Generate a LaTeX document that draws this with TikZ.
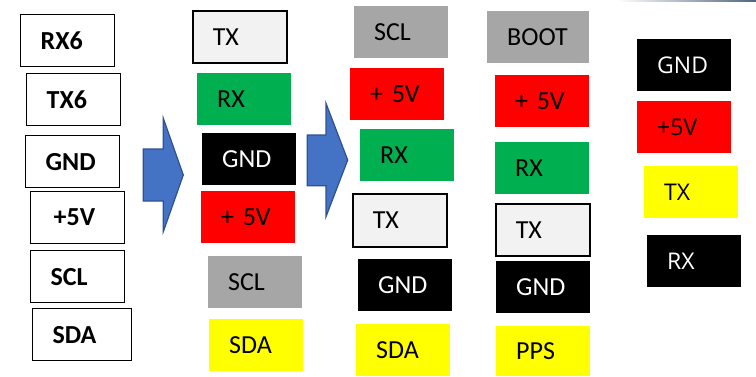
\documentclass[tikz,border=0pt]{standalone}
\usepackage{fontspec}
\setmainfont{Carlito}
\newfontfamily\osans{Open Sans}
\definecolor{pgreen}{HTML}{00B050}
\definecolor{pred}{HTML}{FF0000}
\definecolor{pgray}{HTML}{A6A6A6}
\definecolor{pyellow}{HTML}{FFFF00}
\definecolor{plight}{HTML}{F2F2F2}
\definecolor{pblue}{HTML}{4472C4}
\definecolor{pblueedge}{HTML}{2F528F}
\definecolor{topline}{RGB}{80,100,130}
\tikzset{
  pbox/.style={anchor=north west, minimum height=52pt, inner xsep=20pt, inner ysep=0pt,
    text width=54pt, align=left, font=\fontsize{26}{28}\selectfont},
  wbox/.style={pbox, draw=black, line width=1.3pt, fill=white, font=\fontsize{26}{28}\selectfont\bfseries},
  lbox/.style={pbox, draw=black, line width=1.6pt, fill=plight},
  gbox/.style={pbox, fill=pgreen},
  rbox/.style={pbox, fill=pred},
  kbox/.style={pbox, fill=black, text=white},
  sbox/.style={pbox, fill=pgray},
  ybox/.style={pbox, fill=pyellow},
  obox/.style={font=\osans\fontsize{23}{26}\selectfont},
  bigarrow/.style={fill=pblue, draw=pblueedge, line width=1.2pt, line join=miter}
}
\begin{document}
\begin{tikzpicture}[x=1pt, y=-1pt]
\useasboundingbox (0,0) rectangle (756,376);
\shade[left color=white, right color=topline] (617,0) rectangle (756,1.3);
% column 1
\node[wbox] (c1a) at (20,14) {RX6};
\node[wbox] (c1b) at (26,73) {TX6};
\node[wbox] (c1c) at (25,135) {GND};
\node[wbox, inner xsep=23pt, text width=48pt] (c1d) at (30,191) {+5V};
\node[wbox] (c1e) at (30,250) {SCL};
\node[wbox, text width=59pt] (c1f) at (32,308) {SDA};
% arrow 1
\draw[bigarrow] (143.3,149) -- (163.3,149) -- (163.3,118.3) -- (183.3,175) -- (163.3,231.7) -- (163.3,201) -- (143.3,201) -- cycle;
% column 2
\node[lbox] (c2a) at (192,10) {TX};
\node[gbox] (c2b) at (197,73) {RX};
\node[kbox] (c2c) at (202,133) {GND};
\node[rbox] (c2d) at (201,191) {+ 5V};
\node[sbox] (c2e) at (208,256) {SCL};
\node[ybox] (c2f) at (209,319) {SDA};
% arrow 2
\draw[bigarrow] (307.3,135) -- (326,135) -- (326,103.3) -- (347.7,160) -- (326,216.7) -- (326,185.7) -- (307.3,185.7) -- cycle;
% column 3
\node[sbox] (c3a) at (354,6) {SCL};
\node[rbox] (c3b) at (350,68) {+ 5V};
\node[gbox] (c3c) at (360,129) {RX};
\node[lbox, minimum height=53pt] (c3d) at (352,193) {TX};
\node[kbox] (c3e) at (358,259) {GND};
\node[ybox] (c3f) at (356,324) {SDA};
% column 4
\node[sbox, text width=62pt] (c4a) at (487,11) {BOOT};
\node[rbox] (c4b) at (495,75) {+ 5V};
\node[gbox] (c4c) at (495,142) {RX};
\node[lbox] (c4d) at (495,203) {TX};
\node[kbox] (c4e) at (496,261) {GND};
\node[ybox, minimum height=50pt] (c4f) at (496,326) {PPS};
% column 5
\node[kbox, obox] (c5a) at (637,39) {GND};
\node[rbox, obox] (c5b) at (637,101) {+5V};
\node[ybox, obox] (c5c) at (644,166) {TX};
\node[kbox, obox] (c5d) at (647,235) {RX};
\end{tikzpicture}
\end{document}
